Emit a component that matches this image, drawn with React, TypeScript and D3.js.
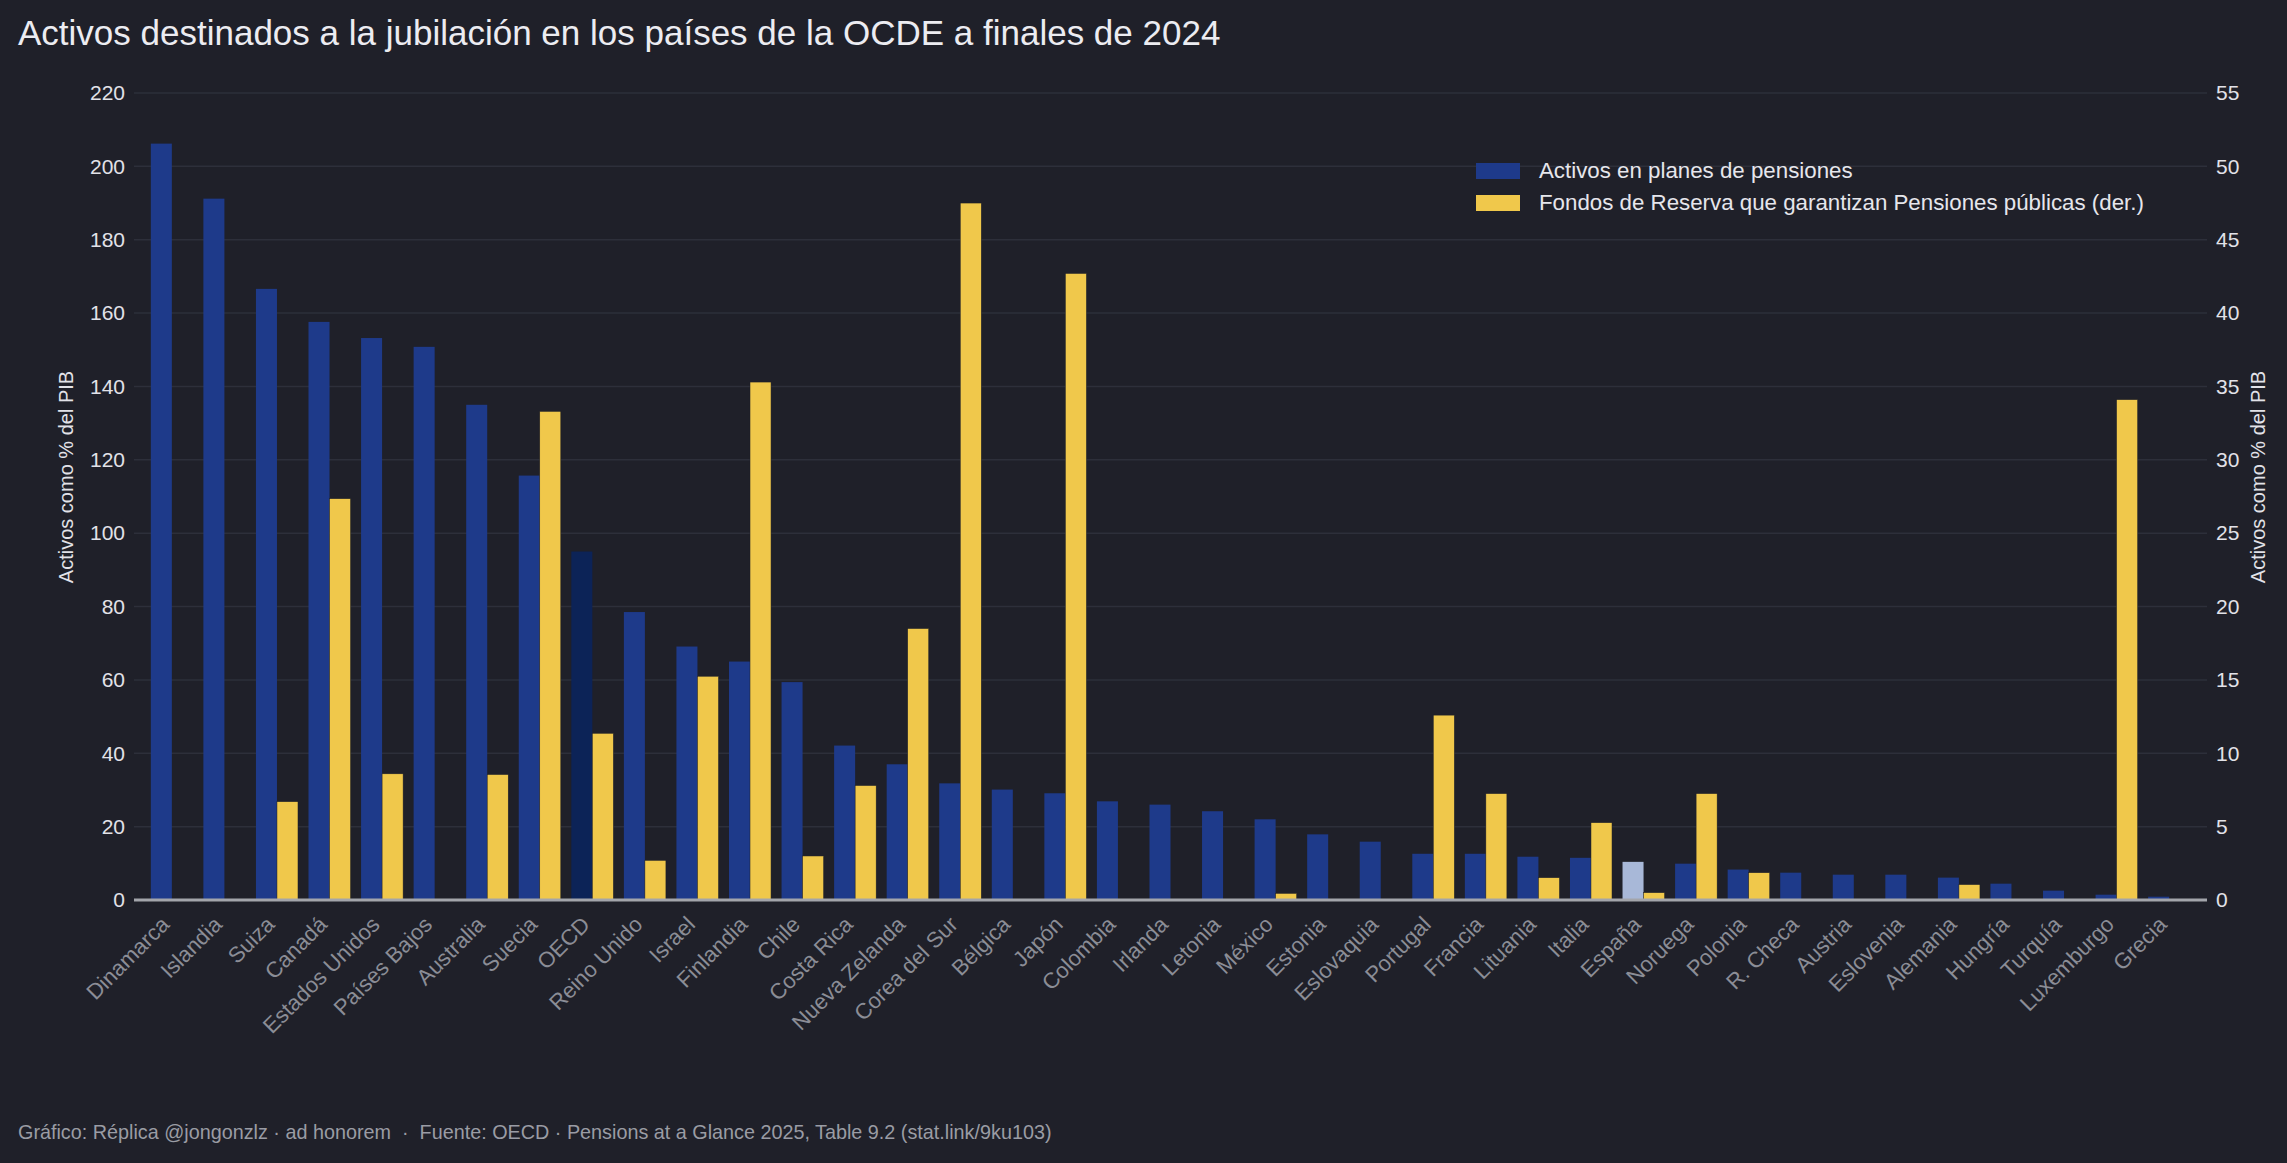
import { useEffect, useRef } from "react";
import * as d3 from "d3";

// Data (% del PIB, end of 2024)
const categories = [
  "Dinamarca", "Islandia", "Suiza", "Canadá", "Estados Unidos", "Países Bajos", "Australia", "Suecia",
  "OECD", "Reino Unido", "Israel", "Finlandia", "Chile", "Costa Rica", "Nueva Zelanda", "Corea del Sur",
  "Bélgica", "Japón", "Colombia", "Irlanda", "Letonia", "México", "Estonia", "Eslovaquia", "Portugal",
  "Francia", "Lituania", "Italia", "España", "Noruega", "Polonia", "R. Checa", "Austria", "Eslovenia",
  "Alemania", "Hungría", "Turquía", "Luxemburgo", "Grecia",
];

// left axis
const pensionAssets = [
  206.2, 191.2, 166.6, 157.6, 153.2, 150.8, 135.0, 115.7,
  95.0, 78.5, 69.1, 65.0, 59.4, 42.1, 37.0, 31.8,
  30.1, 29.1, 26.9, 26.0, 24.2, 22.0, 17.9, 15.9, 12.6,
  12.6, 11.8, 11.5, 10.4, 9.9, 8.3, 7.45, 6.9, 6.9,
  6.1, 4.45, 2.55, 1.45, 0.9,
];

// right axis (der.)
const reserveFunds: (number | null)[] = [
  null, null, 6.7, 27.35, 8.6, null, 8.55, 33.3,
  11.36, 2.7, 15.25, 35.3, 3.0, 7.8, 18.5, 47.5,
  null, 42.7, null, null, null, 0.45, null, null, 12.6,
  7.25, 1.52, 5.27, 0.5, 7.25, 1.86, null, null, null,
  1.05, null, null, 34.1, null,
];

const leftTicks = [0, 20, 40, 60, 80, 100, 120, 140, 160, 180, 200, 220];
const rightTicks = [0, 5, 10, 15, 20, 25, 30, 35, 40, 45, 50, 55];

const seriesNames = ["Activos en planes de pensiones", "Fondos de Reserva que garantizan Pensiones públicas (der.)"];

const W = 2287;
const H = 1163;
const FONT = "'Liberation Sans', Arial, Helvetica, sans-serif";
const BG = "#1f2029";
const BLUE = "#1e3a8a";
const YELLOW = "#f0c84b";
const OECD_BLUE = "#0c2357";
const SPAIN_BLUE = "#a8b8d8";

export default function App() {
  const svgRef = useRef<SVGSVGElement>(null);

  useEffect(() => {
    if (!svgRef.current) return;
    const svg = d3.select(svgRef.current);
    svg.selectAll("*").remove();

    const margin = { top: 93, right: W - 2207, bottom: H - 900, left: 134 };
    const innerW = W - margin.left - margin.right;
    const innerH = H - margin.top - margin.bottom;

    svg.append("rect").attr("width", W).attr("height", H).attr("fill", BG);

    // title
    svg
      .append("text")
      .attr("x", 18)
      .attr("y", 45)
      .attr("fill", "#ececf1")
      .attr("font-size", 35)
      .text("Activos destinados a la jubilación en los países de la OCDE a finales de 2024");

    const g = svg.append("g").attr("transform", `translate(${margin.left},${margin.top})`);

    const x0 = d3.scaleBand<string>().domain(categories).range([0, innerW]).paddingInner(0.2).paddingOuter(0.32);
    const x1 = d3.scaleBand<string>().domain(["a", "r"]).range([0, x0.bandwidth()]);
    const yL = d3.scaleLinear().domain([0, 220]).range([innerH, 0]);
    const yR = d3.scaleLinear().domain([0, 55]).range([innerH, 0]);

    // gridlines
    g.append("g")
      .selectAll("line")
      .data(leftTicks.filter((t) => t > 0))
      .join("line")
      .attr("x1", 0)
      .attr("x2", innerW)
      .attr("y1", (d) => yL(d))
      .attr("y2", (d) => yL(d))
      .attr("stroke", "#2d2f3a")
      .attr("stroke-width", 1.5);

    // left axis
    const left = g
      .append("g")
      .call(d3.axisLeft(yL).tickValues(leftTicks).tickSize(0).tickPadding(9).tickFormat(d3.format("d")));
    left.select(".domain").remove();
    left.selectAll("text").attr("fill", "#e2e2e8").attr("font-size", 21).attr("font-family", FONT);

    // right axis
    const right = g
      .append("g")
      .attr("transform", `translate(${innerW},0)`)
      .call(d3.axisRight(yR).tickValues(rightTicks).tickSize(0).tickPadding(9).tickFormat(d3.format("d")));
    right.select(".domain").remove();
    right.selectAll("text").attr("fill", "#e2e2e8").attr("font-size", 21).attr("font-family", FONT);

    const groups = g
      .append("g")
      .selectAll("g")
      .data(categories)
      .join("g")
      .attr("transform", (d) => `translate(${x0(d)},0)`);

    groups
      .append("rect")
      .attr("x", x1("a")!)
      .attr("width", x1.bandwidth())
      .attr("y", (_, i) => yL(pensionAssets[i]))
      .attr("height", (_, i) => innerH - yL(pensionAssets[i]))
      .attr("fill", (d) => (d === "OECD" ? OECD_BLUE : d === "España" ? SPAIN_BLUE : BLUE));

    groups
      .filter((_, i) => reserveFunds[i] != null)
      .append("rect")
      .attr("x", x1("r")!)
      .attr("width", x1.bandwidth())
      .attr("y", (d) => yR(reserveFunds[categories.indexOf(d)] as number))
      .attr("height", (d) => innerH - yR(reserveFunds[categories.indexOf(d)] as number))
      .attr("fill", YELLOW)
      .attr("stroke", BG)
      .attr("stroke-width", 0.5);

    // baseline
    g.append("line")
      .attr("x1", 0)
      .attr("x2", innerW)
      .attr("y1", innerH)
      .attr("y2", innerH)
      .attr("stroke", "#a3a5ab")
      .attr("stroke-width", 3);

    // category labels
    g.append("g")
      .selectAll("text")
      .data(categories)
      .join("text")
      .attr("transform", (d) => `translate(${(x0(d) ?? 0) + x0.bandwidth() / 2 - 12},${innerH + 15}) rotate(-45)`)
      .attr("text-anchor", "end")
      .attr("dy", "0.7em")
      .attr("fill", "#8b8d96")
      .attr("font-size", 22)
      .text((d) => d);

    // axis titles
    const titleY = 477;
    svg
      .append("text")
      .attr("transform", `translate(73,${titleY}) rotate(-90)`)
      .attr("text-anchor", "middle")
      .attr("fill", "#e2e2e8")
      .attr("font-size", 20)
      .text("Activos como % del PIB");
    svg
      .append("text")
      .attr("transform", `translate(2265,${titleY}) rotate(-90)`)
      .attr("text-anchor", "middle")
      .attr("fill", "#e2e2e8")
      .attr("font-size", 20)
      .text("Activos como % del PIB");

    // legend
    const legend = svg.append("g").attr("transform", "translate(1476,163)");
    [BLUE, YELLOW].forEach((c, i) => {
      legend.append("rect").attr("x", 0).attr("y", i * 32).attr("width", 44).attr("height", 16).attr("fill", c);
      legend
        .append("text")
        .attr("x", 63)
        .attr("y", i * 32 + 15)
        .attr("fill", "#e6e6ec")
        .attr("font-size", 22.3)
        .text(seriesNames[i]);
    });

    // footer
    svg
      .append("text")
      .attr("x", 18)
      .attr("y", 1139)
      .attr("fill", "#9a9ca4")
      .attr("font-size", 19.8)
      .attr("xml:space", "preserve")
      .text("Gráfico: Réplica @jongonzlz · ad honorem  ·  Fuente: OECD · Pensions at a Glance 2025, Table 9.2 (stat.link/9ku103)");
  }, []);

  return (
    <svg
      ref={svgRef}
      width={W}
      height={H}
      style={{ position: "absolute", top: 0, left: 0, display: "block", fontFamily: FONT }}
    />
  );
}
